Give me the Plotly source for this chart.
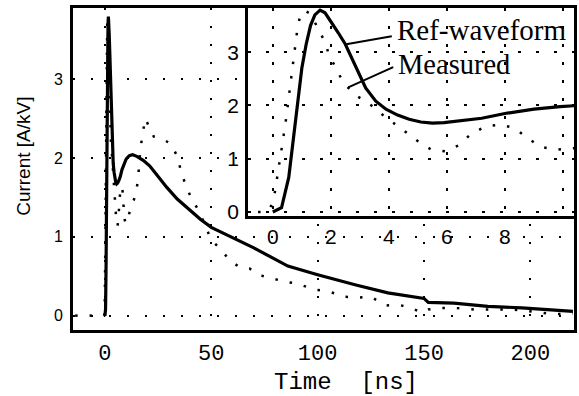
import plotly.graph_objects as go

# ---- data ----
ref_t = [0.0, 0.3, 0.55, 0.7, 0.85, 1.0, 1.15, 1.3, 1.45, 1.63, 1.8, 2.0, 2.25, 2.5, 2.85, 3.2, 3.55, 3.9,
         4.3, 4.7, 5.1, 5.5, 5.9, 6.5, 7.2, 8.0, 9.0, 9.9, 10.4,
         11.5, 13, 15, 18, 21, 24, 29, 34, 40, 45, 50, 60, 70, 86, 100, 118, 133, 150, 152, 164, 180,
         196, 208, 220]
ref_i = [0.0, 0.08, 0.65, 1.3, 2.0, 2.7, 3.15, 3.5, 3.7, 3.79, 3.74, 3.58, 3.37, 3.15, 2.75, 2.33, 2.08, 1.93,
         1.82, 1.74, 1.69, 1.67, 1.68, 1.71, 1.76, 1.85, 1.93, 1.98, 2.0,
         2.03, 2.04, 2.02, 1.97, 1.9, 1.8, 1.63, 1.48, 1.34, 1.22, 1.12, 0.99, 0.86, 0.63, 0.52, 0.39, 0.29,
         0.22, 0.17, 0.16, 0.12, 0.1, 0.08, 0.055]

meas_t = [-14, -10, -6, -2, -0.86, -0.4, -0.1, 0.05, 0.15, 0.25, 0.35, 0.45, 0.55, 0.65, 0.75, 0.85, 0.95,
          1.1, 1.3, 1.5, 1.78, 1.94, 2.2, 2.43, 2.83, 3.29, 3.7, 4.08, 4.54, 5.0, 5.46, 5.97, 6.43, 6.8,
          7.34, 7.85, 8.3, 8.77, 9.2, 9.74, 10.4,
          12, 14, 15.5, 16.6, 18, 19, 21, 23, 27, 31, 34, 35.8, 38, 41, 44.4, 46.7, 48.3, 50, 54.5, 58.4,
          63, 68, 72, 78, 85, 90, 99, 105, 113, 119, 125, 132, 138, 144, 149, 152, 157, 164, 174, 183,
          192, 202, 211, 220]
meas_i = [0.0, 0.01, 0.0, 0.01, 0.0, 0.0, 0.05, 0.3, 0.65, 1.05, 1.35, 1.72, 2.15, 2.55, 3.05, 3.45, 3.7,
          3.78, 3.72, 3.5, 3.21, 2.95, 2.68, 2.43, 2.2, 2.05, 1.86, 1.7, 1.52, 1.33, 1.17, 1.14, 1.26, 1.45,
          1.61, 1.64, 1.58, 1.39, 1.23, 1.17, 1.2,
          1.35, 1.5, 1.7, 2.1, 2.35, 2.5, 2.38, 2.27, 2.24, 2.18, 2.02, 1.83, 1.65, 1.47, 1.32, 1.17, 1.09,
          0.96, 0.84, 0.71, 0.62, 0.6, 0.52, 0.48, 0.43, 0.41, 0.33, 0.31, 0.24, 0.23, 0.24, 0.13, 0.14,
          0.1, 0.04, 0.08, 0.1, 0.1, 0.08, 0.08, 0.08, 0.05, 0.02, 0.03]

main_xticks = [0, 50, 100, 150, 200]
main_yticks = [0, 1, 2, 3]
inset_xticks = [0, 2, 4, 6, 8, 10]
inset_xlabels = ["0", "2", "4", "6", "8", ""]
inset_yticks = [0, 1, 2, 3]

fig = go.Figure()
solid = dict(color="black", width=3.2)
dotted = dict(color="black", width=2.5, dash="2.5px,12px")

fig.add_trace(go.Scatter(x=meas_t, y=meas_i, mode="lines", line=dotted, xaxis="x", yaxis="y"))
fig.add_trace(go.Scatter(x=ref_t, y=ref_i, mode="lines", line=solid, xaxis="x", yaxis="y"))
fig.add_trace(go.Scatter(x=meas_t, y=meas_i, mode="lines", line=dotted, xaxis="x2", yaxis="y2"))
fig.add_trace(go.Scatter(x=ref_t, y=ref_i, mode="lines", line=solid, xaxis="x2", yaxis="y2"))

grid_main = dict(showgrid=True, gridcolor="black", gridwidth=2, griddash="2px,16px")
grid_in = dict(showgrid=True, gridcolor="black", gridwidth=1.6, griddash="3px,15px")

fig.update_layout(
    width=579, height=396,
    margin=dict(l=73, r=2, t=8, b=66),
    paper_bgcolor="white", plot_bgcolor="white",
    showlegend=False,
    xaxis=dict(range=[-15, 220.5], tickvals=main_xticks, ticks="", zeroline=False,
               showline=True, linecolor="black", linewidth=3, mirror=True,
               tickfont=dict(family="Liberation Mono", size=22, color="black"),
               ticklabelstandoff=1, **grid_main),
    yaxis=dict(range=[-0.18, 3.9], tickvals=main_yticks, ticks="", zeroline=False,
               showline=True, linecolor="black", linewidth=3, mirror=True,
               tickfont=dict(family="Liberation Sans", size=16, color="black"),
               ticklabelstandoff=4, **grid_main),
    xaxis2=dict(domain=[0.349, 1], anchor="y2", range=[-0.86, 10.38], tickvals=inset_xticks,
                ticktext=inset_xlabels, ticks="", zeroline=False,
                showline=True, linecolor="black", linewidth=2.5, mirror=True,
                tickfont=dict(family="Liberation Sans", size=21, color="black"),
                ticklabelstandoff=0, **grid_in),
    yaxis2=dict(domain=[0.354, 1], anchor="x2", range=[-0.075, 3.83], tickvals=inset_yticks,
                ticks="", zeroline=False,
                showline=True, linecolor="black", linewidth=2.5, mirror=True,
                tickfont=dict(family="Liberation Sans", size=21, color="black"),
                ticklabelstandoff=2, **grid_in),
)

# axis titles
fig.add_annotation(text="Time  [ns]", xref="paper", yref="paper", x=0.544, y=-0.162,
                   showarrow=False, xanchor="center", yanchor="middle",
                   font=dict(family="Liberation Mono", size=24, color="black"))
fig.add_annotation(text="Current [A/kV]", xref="paper", yref="paper", x=-0.099, y=0.539,
                   showarrow=False, textangle=-90, xanchor="center", yanchor="middle",
                   font=dict(family="Liberation Sans", size=19, color="black"))

# inset labels with leader lines
fig.add_annotation(text="Ref-waveform", xref="x2", yref="y2", x=4.2, y=3.41, showarrow=False,
                   xanchor="left", yanchor="middle",
                   font=dict(family="Liberation Serif", size=29, color="black"))
fig.add_annotation(text="Measured", xref="x2", yref="y2", x=4.25, y=2.77, showarrow=False,
                   xanchor="left", yanchor="middle",
                   font=dict(family="Liberation Serif", size=28.5, color="black"))
fig.add_shape(type="line", xref="x2", yref="y2", x0=2.53, y0=3.15, x1=4.1, y1=3.30,
              line=dict(color="black", width=2))
fig.add_shape(type="line", xref="x2", yref="y2", x0=2.6, y0=2.34, x1=4.15, y1=2.72,
              line=dict(color="black", width=2))

fig.write_html("out.html")
